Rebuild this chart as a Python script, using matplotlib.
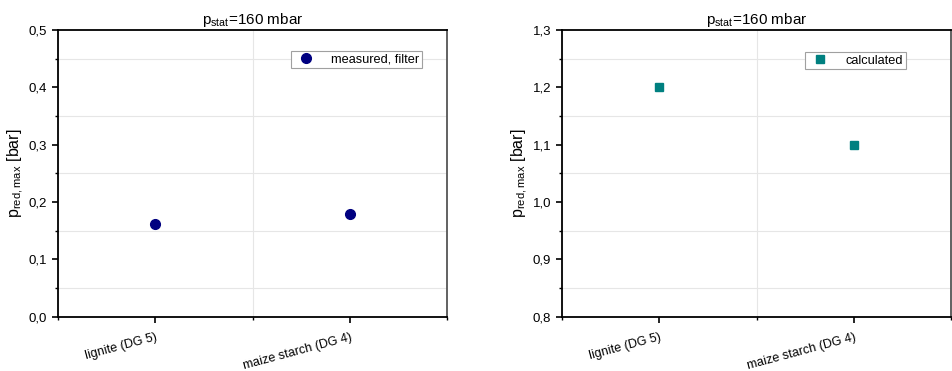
import matplotlib.pyplot as plt
from matplotlib.ticker import MultipleLocator, FuncFormatter

plt.rcParams['font.family'] = ['Liberation Sans', 'DejaVu Sans']
plt.rcParams['mathtext.fontset'] = 'custom'
plt.rcParams['mathtext.rm'] = 'Liberation Sans'

dusts = ["lignite (DG 5)", "maize starch (DG 4)"]
measured = [0.161, 0.180]
calculated = [1.20, 1.10]
title = r"p$_{\mathrm{stat}}$=160 mbar"
ylabel = r"p$_{\mathrm{red,max}}$ [bar]"

comma = FuncFormatter(lambda v, pos: f"{v:.1f}".replace(".", ","))

fig = plt.figure(figsize=(9.53, 3.71), dpi=100)
ax1 = fig.add_axes([0.061, 0.146, 0.408, 0.773])
ax2 = fig.add_axes([0.590, 0.146, 0.408, 0.773])

# axes, values, marker, colour, marker size, legend label, y range, legend anchor
panels = [
    (ax1, measured, "o", "#000080", 7, "measured, filter", (0.0, 0.5), (0.936, 0.927)),
    (ax2, calculated, "s", "#008080", 5.5, "calculated", (0.8, 1.3), (0.884, 0.923)),
]

for ax, vals, mk, col, ms, lab, ylim, anchor in panels:
    x = list(range(1, len(dusts) + 1))
    ax.plot(x, vals, linestyle="none", marker=mk, color=col,
            markersize=ms, label=lab, zorder=3)
    ax.set_xlim(0.5, len(dusts) + 0.5)
    ax.set_ylim(*ylim)
    ax.set_xticks(x)
    ax.set_xticklabels(dusts, rotation=15, ha="right", rotation_mode="anchor",
                       fontsize=9)
    ax.xaxis.set_minor_locator(MultipleLocator(0.5))
    ax.yaxis.set_major_locator(MultipleLocator(0.1))
    ax.yaxis.set_minor_locator(MultipleLocator(0.05))
    ax.yaxis.set_major_formatter(comma)
    ax.tick_params(axis="y", labelsize=9.5)
    ax.tick_params(axis="x", which="major", pad=6)
    ax.tick_params(which="major", direction="out", length=4.5, width=1.2)
    ax.tick_params(which="minor", direction="out", length=2.5, width=1.0)
    ax.grid(True, which="minor", color="#e6e6e6", linewidth=0.8)
    ax.grid(False, which="major")
    for s in ax.spines.values():
        s.set_linewidth(1.3)
    ax.spines["right"].set_color("#555555")
    ax.set_title(title, fontsize=11, pad=4)
    ax.set_ylabel(ylabel, fontsize=11.5, labelpad=2)
    leg = ax.legend(loc="upper right", bbox_to_anchor=anchor,
                    borderaxespad=0, fancybox=False, framealpha=1,
                    edgecolor="#a0a0a0", fontsize=9.2, handletextpad=1.0,
                    borderpad=0.2, handlelength=2.0)
    leg.get_frame().set_linewidth(0.8)

fig.savefig("out.png", dpi=100)
